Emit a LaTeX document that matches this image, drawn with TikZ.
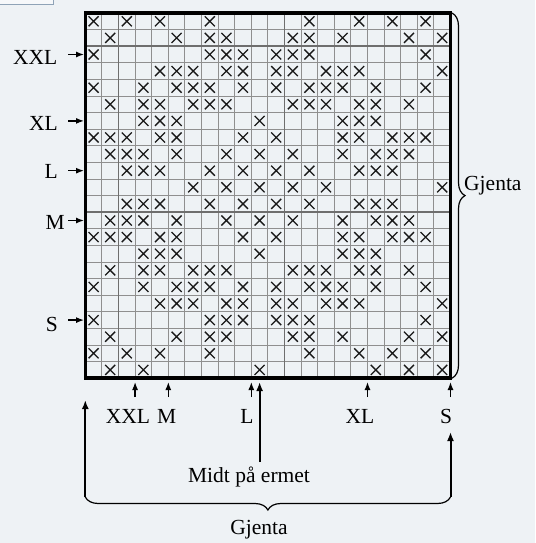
\documentclass[tikz,border=0pt]{standalone}
\usepackage{fontspec}
\setmainfont{Liberation Serif}
\usetikzlibrary{arrows.meta,decorations.pathreplacing}

\definecolor{bgpanel}{HTML}{EEF2F5}
\definecolor{gridgray}{HTML}{8F8F8F}
\definecolor{gridbold}{HTML}{6E6E6E}
\definecolor{boxedge}{HTML}{8FA3B7}

\begin{document}
\begin{tikzpicture}[
  x=1pt, y=-1pt,
  lbl/.style={inner sep=0pt, font=\fontsize{21.5}{24}\selectfont},
  thingrid/.style={draw=gridgray, line width=0.9pt},
  boldgrid/.style={draw=gridbold, line width=1.8pt},
  xmark/.style={draw=black!90, line width=1.3pt},
  arr/.style={line width=1.3pt, -{Latex[length=8pt,width=6pt]}},
  bigarr/.style={line width=2pt, -{Latex[length=9pt,width=7pt]}},
  gbrace/.style={line width=1.2pt, decorate, decoration={brace, amplitude=13pt}}
]

\fill[bgpanel] (0,0) rectangle (535,543);
\useasboundingbox (0,0) rectangle (535,543);
\draw[boxedge, fill=white!50!bgpanel] (-2,-2) rectangle (53,4);

% chart
\foreach \i in {0,...,22} {
  \draw[thingrid] ({85.3+16.6*\i},13) -- ({85.3+16.6*\i},378.2);
  \draw[thingrid] (85.3,{13+16.6*\i}) -- (450.5,{13+16.6*\i});
}
\foreach \i in {2,12} {
  \draw[boldgrid] ({85.3+16.6*\i},13) -- ({85.3+16.6*\i},378.2);
  \draw[boldgrid] (85.3,{13+16.6*\i}) -- (450.5,{13+16.6*\i});
}

\foreach \r/\cl in {
  1/{1,3,5,8,14,17,19,21},
  2/{2,6,8,9,13,14,16,20,22},
  3/{1,8,9,10,12,13,14,21},
  4/{5,6,7,9,10,12,13,15,16,17,22},
  5/{1,4,6,7,8,10,12,14,15,16,18,21},
  6/{2,4,5,7,8,9,13,14,15,17,18,20},
  7/{4,5,6,11,16,17,18},
  8/{1,2,3,5,6,10,12,16,17,19,20,21},
  9/{2,3,4,6,9,11,13,16,18,19,20},
  10/{3,4,5,8,10,12,14,17,18,19},
  11/{7,9,11,13,15,22},
  12/{3,4,5,8,10,12,14,17,18,19},
  13/{2,3,4,6,9,11,13,16,18,19,20},
  14/{1,2,3,5,6,10,12,16,17,19,20,21},
  15/{4,5,6,11,16,17,18},
  16/{2,4,5,7,8,9,13,14,15,17,18,20},
  17/{1,4,6,7,8,10,12,14,15,16,18,21},
  18/{5,6,7,9,10,12,13,15,16,17,22},
  19/{1,8,9,10,12,13,14,21},
  20/{2,6,8,9,13,14,16,20,22},
  21/{1,3,5,8,14,17,19,21},
  22/{2,4,11,18,20,22}}
  \foreach \c in \cl
    \draw[xmark, shift={({85.3+16.6*(\c-0.5)},{13+16.6*(\r-0.5)})}]
      (-5,-5) -- (5,5) (-5,5) -- (5,-5);

\draw[line width=3.5pt] (85.3,13) rectangle (450.5,378.2);

% sizes, left side
\node[lbl, anchor=base east] (lXXL) at (57.5,64) {XXL};
\node[lbl, anchor=base east] (lXL) at (58,130) {XL};
\node[lbl, anchor=base east] (lL) at (58,178) {L};
\node[lbl, anchor=base east] (lM) at (65,229) {M};
\node[lbl, anchor=base east] (lS) at (58,331) {S};

\foreach \n/\r in {XXL/3,XL/7,L/10,M/13,S/19} {
  \coordinate (t\n) at (68,{13+16.6*(\r-0.5)});
  \coordinate (h\n) at (84,{13+16.6*(\r-0.5)});
  \draw[arr] (t\n) -- (h\n);
}

% sizes, bottom
\node[lbl, anchor=base] (bXXL) at (128,423) {XXL};
\node[lbl, anchor=base] (bM) at (166.7,423) {M};
\node[lbl, anchor=base] (bL) at (247,423) {L};
\node[lbl, anchor=base] (bXL) at (360,423) {XL};
\node[lbl, anchor=base] (bS) at (446,423) {S};

\foreach \n/\c in {XXL/3,M/5,L/10,XL/17,S/22} {
  \coordinate (bt\n) at ({85.3+16.6*\c},397);
  \coordinate (bh\n) at ({85.3+16.6*\c},382);
  \draw[arr] (bt\n) -- (bh\n);
}

% middle of sleeve
\node[lbl, anchor=base] (midt) at (249,482) {Midt på ermet};
\coordinate (mt) at (259.6,462);
\coordinate (mh) at (259.6,382);
\draw[bigarr] (mt) -- (mh);

% repeat
\coordinate (gl) at (85.3,497);
\coordinate (glh) at (85.3,400);
\coordinate (gr) at (450.5,497);
\coordinate (grh) at (450.5,432);
\draw[bigarr] (gl) -- (glh);
\draw[bigarr] (gr) -- (grh);
\draw[gbrace, decoration={mirror}] (gl) -- (gr);
\node[lbl, anchor=base] (gjB) at (259,534) {Gjenta};

\coordinate (rt) at (452,13);
\coordinate (rb) at (452,378.2);
\draw[gbrace] (rt) -- (rb);
\node[lbl, anchor=base west] (gjR) at (464,190) {Gjenta};

\end{tikzpicture}
\end{document}
